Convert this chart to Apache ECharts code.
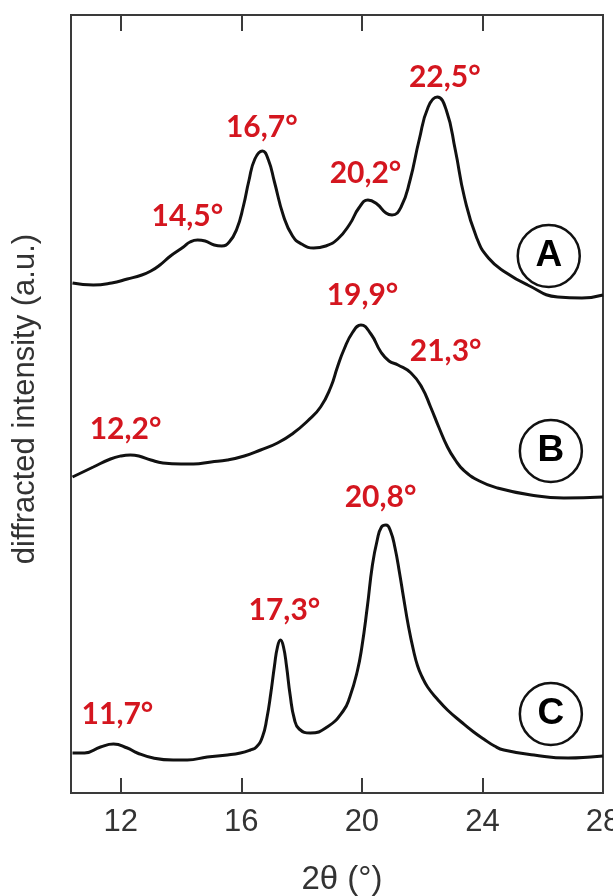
<!DOCTYPE html>
<html>
<head>
<meta charset="utf-8">
<script src="https://cdn.jsdelivr.net/npm/echarts@6/dist/echarts.min.js"></script>
<style>
html,body{margin:0;padding:0;background:#fff;}
#chart{width:613px;height:896px;}
</style>
</head>
<body>
<div id="chart"></div>
<script>
// ---- Data (2θ in degrees, intensity in a.u. incl. vertical offset) ----
var twoThetaA = [10.40,11.09,11.70,12.22,12.70,13.00,13.30,13.65,14.08,14.30,14.55,14.80,15.10,15.35,15.60,15.85,16.07,16.25,16.45,16.70,16.90,17.10,17.40,17.70,18.00,18.40,18.80,19.20,19.60,19.90,20.20,20.50,20.80,21.00,21.30,21.60,21.90,22.20,22.50,22.80,23.10,23.40,23.80,24.20,24.80,25.50,26.50,27.30,28.00];
var intensityA = [510,508,510,514,518,522,528,537,546,551,553,552,548,547,551,564,587,612,634,642,633,611,577,557,549,545,547,554,569,585,593,589,580,578,586,613,653,686,696,683,643,596,556,535,520,508,496,495,498];

var twoThetaB = [10.40,11.09,11.66,12.00,12.32,12.60,13.00,13.40,14.00,14.41,15.00,15.54,16.10,16.64,17.20,17.73,18.20,18.63,18.97,19.19,19.40,19.70,19.97,20.30,20.63,20.90,21.20,21.63,22.00,22.28,22.55,22.84,23.10,23.37,23.90,24.50,25.60,26.70,28.00];
var intensityB = [316,326,334,337,338,337,333,330,329,329,331,333,337,343,350,360,372,386,406,426,443,461,468,459,441,432,428,420,405,386,366,346,333,323,312,305,298,295,296];

var twoThetaC = [10.40,10.80,11.33,11.76,12.22,12.55,13.08,13.74,14.21,14.87,15.54,15.97,16.30,16.50,16.70,16.85,16.98,17.10,17.20,17.30,17.40,17.50,17.62,17.76,17.92,18.29,18.85,19.38,19.60,19.85,20.00,20.18,20.35,20.51,20.65,20.80,20.95,21.10,21.25,21.38,21.55,21.71,21.85,22.00,22.18,22.50,22.84,23.30,23.71,24.04,24.40,24.71,25.71,26.84,27.60,28.00];
var intensityC = [40,40,46,49,45,40,35,33,33,36,38,40,43,46,56,75,100,127,146,153,146,127,98,74,64,60,66,82,96,122,146,186,228,253,266,268,262,245,220,196,166,143,127,116,106,94,83,71,61,54,47,43,38,35,36,37];

var peakLabels = ['14,5°','16,7°','20,2°','22,5°','12,2°','19,9°','21,3°','11,7°','17,3°','20,8°'];
var peakLabelX = [14.21,16.68,20.12,22.75,12.16,20.02,22.78,11.89,17.43,20.62];
var peakLabelY = [577,666,620,716,364,498,442,79,183,296];

var sampleLetters = ['A','B','C'];
var sampleX = [26.2,26.27,26.27];
var sampleY = [537,342,79];

var xTicks = [12,16,20,24,28];
var xTopTicks = [12,16,20,24];

function pairs(xs, ys){ return xs.map(function(x,i){ return [x, ys[i]]; }); }

var chart = echarts.init(document.getElementById('chart'), null, {renderer:'canvas'});

var curveStyle = {color:'#111', width:3};

var option = {
  animation:false,
  backgroundColor:'#fff',
  grid:{left:71, right:10, top:15, bottom:103, show:true, borderColor:'#3a3a3a', borderWidth:2,
    backgroundColor:'transparent', containLabel:false, outerBoundsMode:'none'},
  xAxis:[{
    type:'value', min:10.35, max:28, position:'bottom',
    axisLine:{show:false},
    splitLine:{show:false},
    axisTick:{show:true, inside:true, length:15, customValues:xTicks, lineStyle:{color:'#3a3a3a', width:2}},
    axisLabel:{show:true, customValues:xTicks, margin:14, fontFamily:'Liberation Sans', fontSize:31, color:'#333',
      hideOverlap:false, formatter:function(v){return String(v);} }
  },{
    type:'value', min:10.35, max:28, position:'top',
    axisLine:{show:false},
    splitLine:{show:false},
    axisTick:{show:true, inside:true, length:16, customValues:xTopTicks, lineStyle:{color:'#3a3a3a', width:2}},
    axisLabel:{show:false}
  }],
  yAxis:{
    type:'value', min:0, max:778,
    axisLine:{show:false}, axisTick:{show:false}, axisLabel:{show:false}, splitLine:{show:false}
  },
  graphic:[
    {type:'text', x:25, y:399, rotation:Math.PI/2,
      style:{text:'diffracted intensity (a.u.)', fontFamily:'Liberation Sans', fontSize:31, fill:'#333', textAlign:'center', textVerticalAlign:'middle'}},
    {type:'text', x:342, y:880,
      style:{text:'2θ (°)', fontFamily:'Liberation Sans', fontSize:33, fill:'#333', textAlign:'center', textVerticalAlign:'middle'}}
  ],
  series:[
    {type:'line', name:'A', data:pairs(twoThetaA,intensityA), showSymbol:false, smooth:0.5, lineStyle:curveStyle, z:2},
    {type:'line', name:'B', data:pairs(twoThetaB,intensityB), showSymbol:false, smooth:0.5, lineStyle:curveStyle, z:2},
    {type:'line', name:'C', data:pairs(twoThetaC,intensityC), showSymbol:false, smooth:0.5, lineStyle:curveStyle, z:2},
    {type:'scatter', name:'peaks', symbolSize:1, itemStyle:{opacity:0}, z:5,
      data:peakLabels.map(function(t,i){return [peakLabelX[i], peakLabelY[i], t];}),
      label:{show:true, position:'inside', formatter:function(p){return p.data[2];},
        fontFamily:'Lato', fontWeight:'bold', fontSize:30, color:'#d4161f', opacity:1,
        textBorderWidth:0, textShadowBlur:0}},
    {type:'scatter', name:'samples', symbol:'circle', symbolSize:62, z:4,
      data:sampleLetters.map(function(t,i){return [sampleX[i], sampleY[i], t];}),
      itemStyle:{color:'#fff', borderColor:'#111', borderWidth:2.5, opacity:1},
      label:{show:true, position:'inside', formatter:function(p){return p.data[2];},
        fontFamily:'Liberation Sans', fontWeight:'bold', fontSize:37, color:'#000', opacity:1, textBorderWidth:0}}
  ]
};
chart.setOption(option);
</script>
</body>
</html>
